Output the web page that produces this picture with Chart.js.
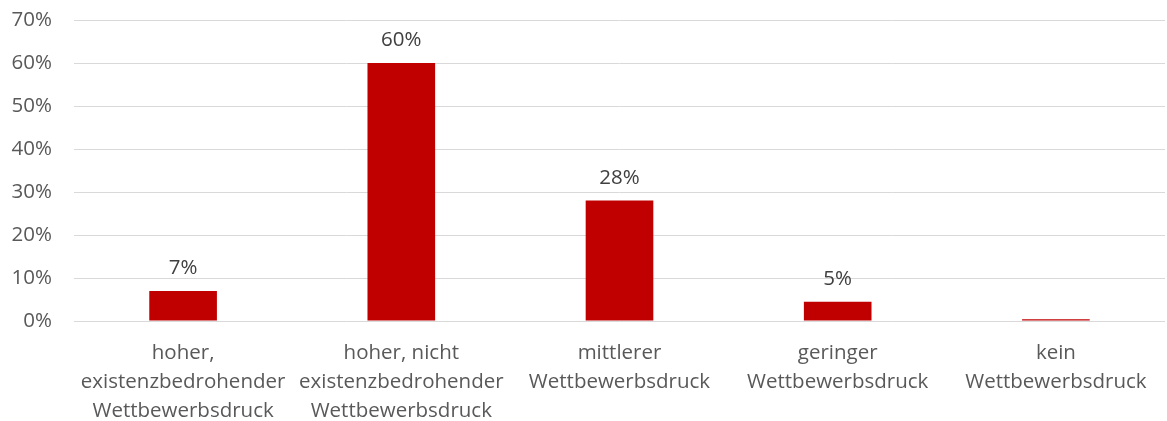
<!DOCTYPE html>
<html>
<head>
<meta charset="utf-8">
<script src="https://cdn.jsdelivr.net/npm/chart.js@4"></script>
<style>
  html, body { margin: 0; padding: 0; background: #fff; }
  #box { width: 1167px; height: 421px; }
</style>
</head>
<body>
<div id="box"><canvas id="wettbewerbChart"></canvas></div>
<script>
// Kategorien (mehrzeilig wie im Original)
const kategorien = [
    ['hoher,', 'existenzbedrohender', 'Wettbewerbsdruck'],
    ['hoher, nicht', 'existenzbedrohender', 'Wettbewerbsdruck'],
    ['mittlerer', 'Wettbewerbsdruck'],
    ['geringer', 'Wettbewerbsdruck'],
    ['kein', 'Wettbewerbsdruck']
];
// Anteile in Prozent (aus dem Bild geschätzt)
const anteile = [7, 60, 28, 4.5, 0.4];
// Beschriftungen über den Balken
const beschriftungen = ['7%', '60%', '28%', '5%', ''];
// Y-Achse
const yMin = 0;
const yMax = 70;
const yStep = 10;

const schrift = "'Open Sans', 'DejaVu Sans', sans-serif";

// Plugin für die Werte über den Balken
const wertePlugin = {
    id: 'wertePlugin',
    afterDatasetsDraw(chart) {
        const ctx = chart.ctx;
        const meta = chart.getDatasetMeta(0);
        ctx.save();
        ctx.font = '20.5px ' + schrift;
        ctx.fillStyle = '#404040';
        ctx.textAlign = 'center';
        ctx.textBaseline = 'alphabetic';
        meta.data.forEach((bar, i) => {
            if (beschriftungen[i]) {
                ctx.fillText(beschriftungen[i], bar.x, bar.y - 17);
            }
        });
        ctx.restore();
    }
};

const ctx = document.getElementById('wettbewerbChart').getContext('2d');
const chart = new Chart(ctx, {
    type: 'bar',
    data: {
        labels: kategorien,
        datasets: [{
            data: anteile,
            backgroundColor: '#c00000',
            borderWidth: 0,
            categoryPercentage: 1,
            barPercentage: 0.31
        }]
    },
    options: {
        responsive: true,
        maintainAspectRatio: false,
        animation: false,
        layout: { padding: { top: 20, right: 2, left: 0, bottom: 0 } },
        plugins: {
            legend: { display: false },
            tooltip: { enabled: false }
        },
        scales: {
            x: {
                grid: { display: false, drawTicks: false },
                border: { display: false },
                ticks: {
                    color: '#595959',
                    font: { family: schrift, size: 20.5, lineHeight: 1.4 },
                    padding: 18,
                    maxRotation: 0,
                    autoSkip: false
                },
                afterFit(scale) {
                    scale.height = 100;
                    scale.paddingTop = 0;
                    scale.paddingBottom = 0;
                }
            },
            y: {
                min: yMin,
                max: yMax,
                grid: { color: '#d9d9d9', lineWidth: 1, drawTicks: false },
                border: { display: false },
                ticks: {
                    stepSize: yStep,
                    color: '#595959',
                    font: { family: schrift, size: 20.5 },
                    padding: 22,
                    callback: v => v + '%'
                },
                afterFit(scale) {
                    scale.width = 74;
                    scale.paddingTop = 0;
                    scale.paddingBottom = 0;
                }
            }
        }
    },
    plugins: [wertePlugin]
});
</script>
</body>
</html>
